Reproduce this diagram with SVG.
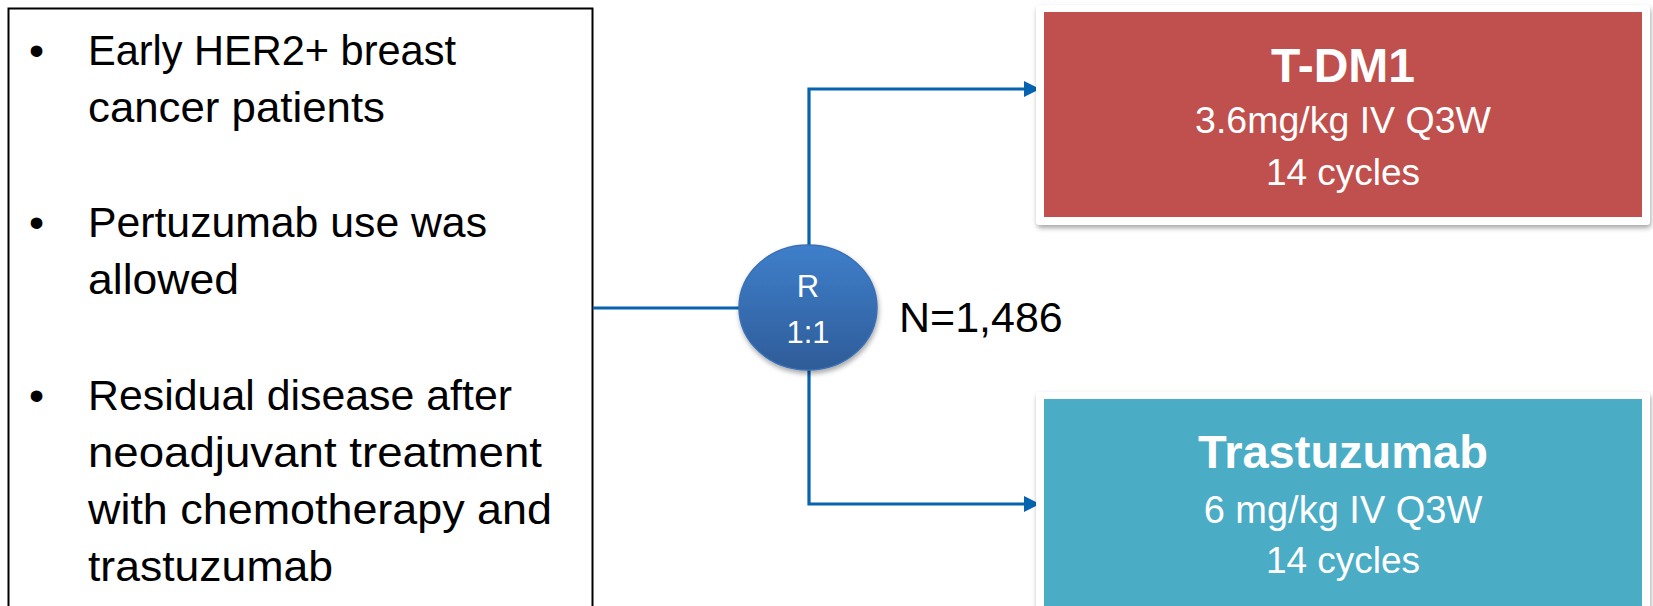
<svg xmlns="http://www.w3.org/2000/svg" width="1653" height="606" viewBox="0 0 1653 606">
<style>
.t{font-family:"Liberation Sans",Arial,sans-serif;fill:#000;font-size:43px}
.w{font-family:"Liberation Sans",Arial,sans-serif;fill:#fff;text-anchor:middle}
.b{font-weight:bold}
.c{fill:none;stroke:#0563B0;stroke-width:3.2}
</style>
<defs>
<linearGradient id="g" x1="0" y1="0" x2="0" y2="1">
<stop offset="0" stop-color="#3F7FCB"/>
<stop offset="1" stop-color="#2E5C98"/>
</linearGradient>
<filter id="sh" x="-10%" y="-10%" width="120%" height="130%">
<feDropShadow dx="1" dy="3" stdDeviation="2.5" flood-color="#000" flood-opacity="0.35"/>
</filter>
<marker id="ah" viewBox="0 0 10 10" refX="10" refY="5" markerWidth="5" markerHeight="5" orient="auto" markerUnits="strokeWidth">
<path d="M0,0 L10,5 L0,10 z" fill="#0563B0"/>
</marker>
</defs>
<rect width="1653" height="606" fill="#fff"/>
<g id="criteria">
<rect x="8.5" y="8.5" width="584" height="620" fill="#fff" stroke="#000" stroke-width="2"/>
<text class="t" x="29" y="65">•</text>
<text class="t" x="88" y="65" textLength="368" lengthAdjust="spacingAndGlyphs">Early HER2+ breast</text>
<text class="t" x="88" y="122" textLength="297" lengthAdjust="spacingAndGlyphs">cancer patients</text>
<text class="t" x="29" y="237">•</text>
<text class="t" x="88" y="237" textLength="399" lengthAdjust="spacingAndGlyphs">Pertuzumab use was</text>
<text class="t" x="88" y="294" textLength="151" lengthAdjust="spacingAndGlyphs">allowed</text>
<text class="t" x="29" y="410">•</text>
<text class="t" x="88" y="410" textLength="424" lengthAdjust="spacingAndGlyphs">Residual disease after</text>
<text class="t" x="88" y="467" textLength="454" lengthAdjust="spacingAndGlyphs">neoadjuvant treatment</text>
<text class="t" x="88" y="524" textLength="464" lengthAdjust="spacingAndGlyphs">with chemotherapy and</text>
<text class="t" x="88" y="581" textLength="245" lengthAdjust="spacingAndGlyphs">trastuzumab</text>
</g>
<g id="connectors">
<line class="c" x1="593" y1="308" x2="740" y2="308"/>
<polyline class="c" points="809,246 809,89 1040,89" marker-end="url(#ah)"/>
<polyline class="c" points="809,369 809,504 1040,504" marker-end="url(#ah)"/>
</g>
<g id="randomization">
<ellipse cx="808" cy="307.5" rx="69" ry="62.5" fill="url(#g)" stroke="#3A70B5" stroke-width="1.5" filter="url(#sh)"/>
<text class="w" x="808" y="297" font-size="31">R</text>
<text class="w" x="808" y="343" font-size="31">1:1</text>
</g>
<g id="n-label">
<text class="t" x="899" y="332" font-size="42">N=1,486</text>
</g>
<g id="tdm1">
<rect x="1036" y="5" width="614" height="220" rx="4" fill="#fff" filter="url(#sh)"/>
<rect x="1044" y="12" width="598" height="205" fill="#C0504D"/>
<text class="w b" x="1343" y="82" font-size="48">T-DM1</text>
<text class="w" x="1343" y="133" font-size="37.5">3.6mg/kg IV Q3W</text>
<text class="w" x="1343" y="185" font-size="37">14 cycles</text>
</g>
<g id="trastuzumab">
<rect x="1036" y="392" width="614" height="240" rx="4" fill="#fff" filter="url(#sh)"/>
<rect x="1044" y="399" width="598" height="230" fill="#4BACC6"/>
<text class="w b" x="1343" y="468" font-size="47">Trastuzumab</text>
<text class="w" x="1343" y="523" font-size="38">6 mg/kg IV Q3W</text>
<text class="w" x="1343" y="573" font-size="37">14 cycles</text>
</g>
</svg>
